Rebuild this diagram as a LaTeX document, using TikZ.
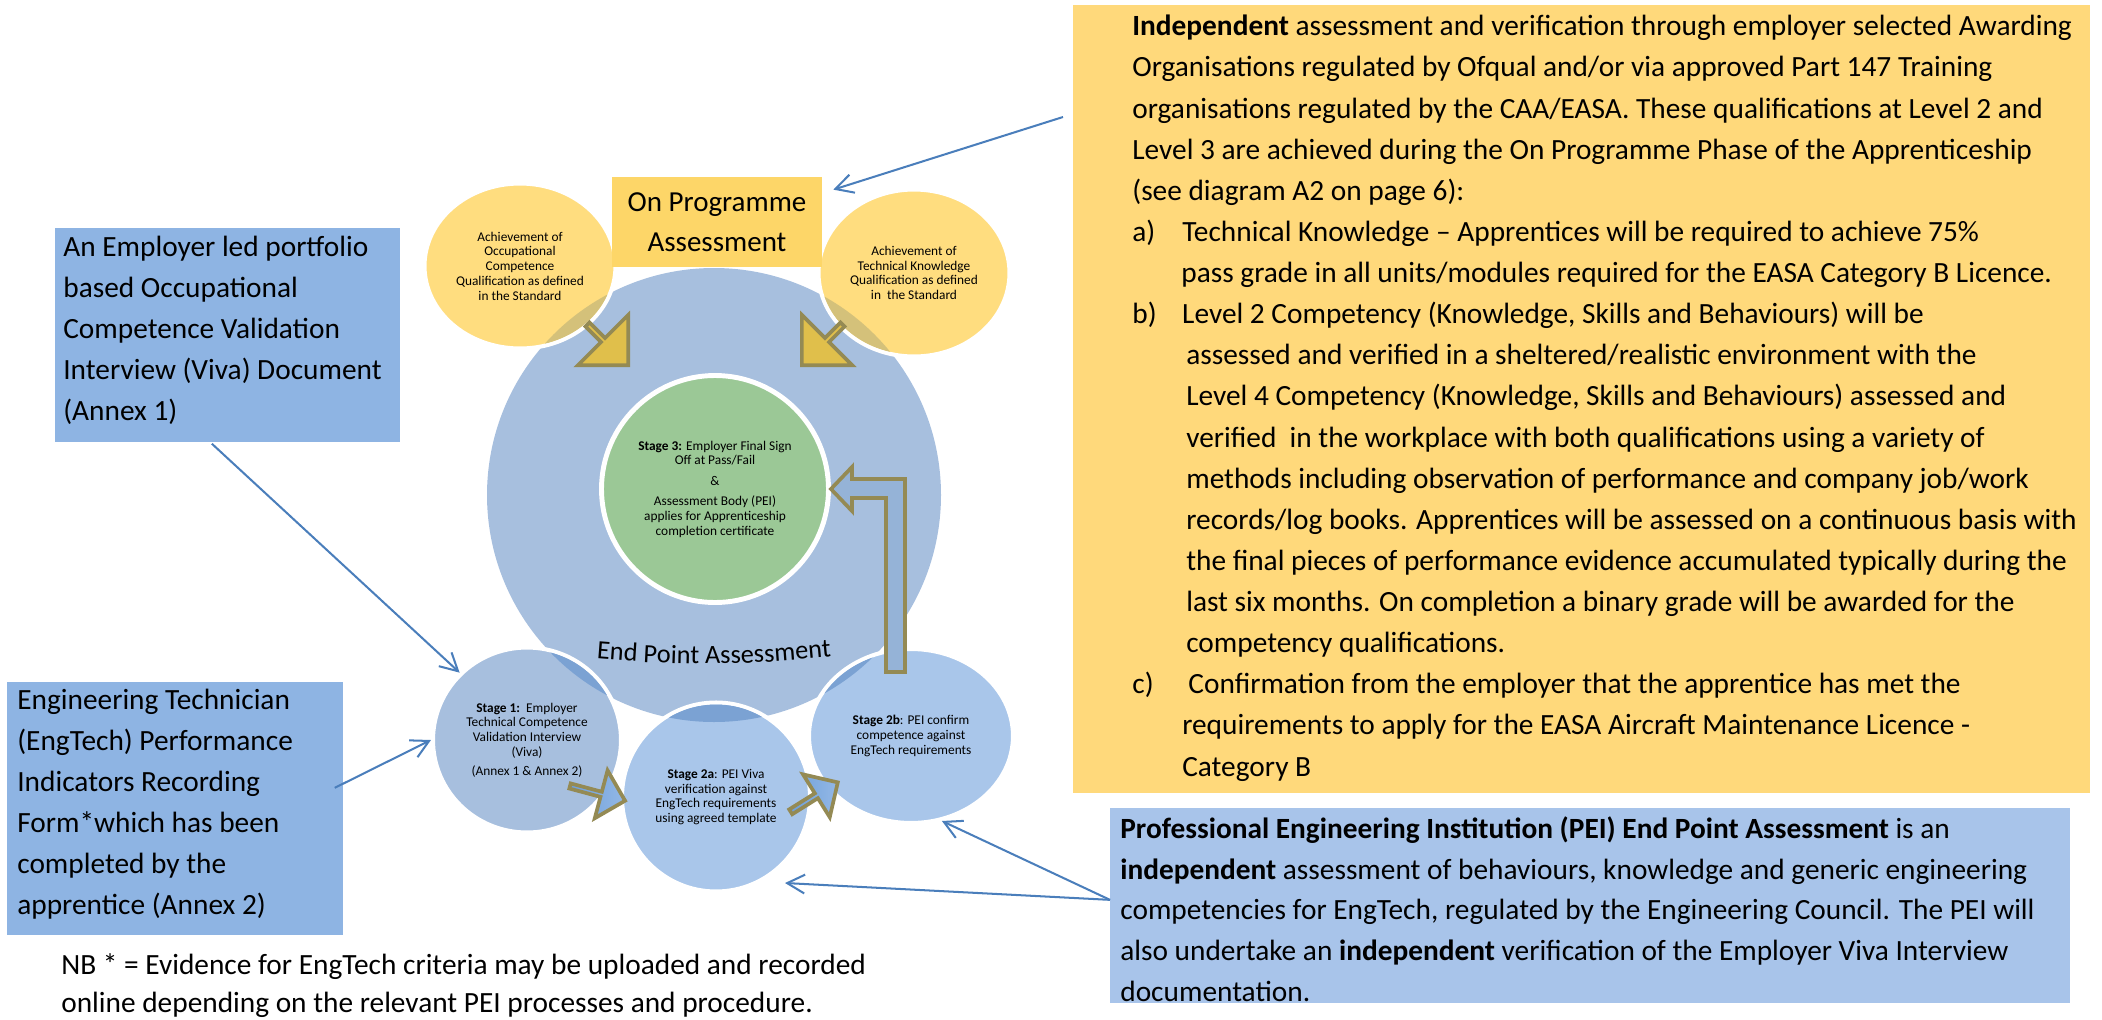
\documentclass[tikz,border=0pt]{standalone}
\usepackage{fontspec}
\setmainfont{Carlito}
\usepackage{xcolor}
\usetikzlibrary{arrows.meta, positioning, shapes.geometric, shapes.arrows, calc, decorations.text}

\definecolor{epablue}{HTML}{A7BFDE}
\definecolor{stageblue}{HTML}{A9C6EA}
\definecolor{lensblue}{HTML}{7BA2D3}
\definecolor{passgreen}{HTML}{9BC896}
\definecolor{circyellow}{HTML}{FFDD7F}
\definecolor{panelyellow}{HTML}{FFD97B}
\definecolor{opyellow}{HTML}{FDD668}
\definecolor{lenskhaki}{HTML}{D4C17A}
\definecolor{goldfill}{HTML}{E0BF4B}
\definecolor{arrowolive}{HTML}{948A54}
\definecolor{arrowblue}{HTML}{6E9FDA}
\definecolor{arrowlight}{HTML}{93B8E6}
\definecolor{bentblue}{HTML}{95B3D7}
\definecolor{boxblue}{HTML}{8EB4E3}
\definecolor{peiblue}{HTML}{A8C4EA}
\definecolor{linkblue}{HTML}{4A7EBB}

\newcommand{\bodyfont}{\fontsize{16.7}{23.4}\selectfont}
\newcommand{\opfont}{\fontsize{16.5}{22.8}\selectfont}
\newcommand{\circfont}{\fontsize{7.6}{8.4}\selectfont}
\newcommand{\eptfont}{\fontsize{15}{18}\selectfont}
\newcommand{\lbl}[2][28.4pt]{\makebox[#1][l]{#2}}

\begin{document}
\begin{tikzpicture}[x=0.2mm, y=-0.2mm,
    every node/.style={inner sep=0pt},
    bubble/.style={ellipse, draw=white, line width=2.3pt, align=center, font=\circfont},
    panel/.style={rectangle, anchor=north west},
    body/.style={anchor=base west, align=left, font=\bodyfont},
    gold/.style={
        single arrow, draw=arrowolive, fill=goldfill, line width=2.1pt,
        single arrow tip angle=90, minimum height=11.5mm, minimum width=14.2mm,
        single arrow head extend=4.15mm, anchor=tip
    },
    flow/.style={
        single arrow, draw=arrowolive, line width=2.1pt,
        left color=arrowblue, right color=arrowlight,
        single arrow tip angle=90, anchor=tip
    },
    link/.style={-{Straight Barb[length=10pt, width=10.7pt]}, line width=1.15pt, linkblue}
]
\useasboundingbox (0,0) rectangle (2102,1020);

% assessment circles
\node[bubble, fill=epablue, draw=none, minimum width=90.8mm, minimum height=90.8mm] (epa) at (714,495) {};

\node[bubble, fill=circyellow, minimum width=38.2mm, minimum height=33mm] (occq) at (520,266)
    {Achievement of\\Occupational\\Competence\\Qualification as defined\\in the Standard};
\node[bubble, fill=circyellow, minimum width=38.2mm, minimum height=33.4mm] (techq) at (914,273)
    {Achievement of\\Technical Knowledge\\Qualification as defined\\in\ \ the Standard};

\begin{scope}
    \clip (epa.center) circle[radius=227];
    \fill[lenskhaki] (occq.center) ellipse[x radius=93.5, y radius=80.5];
    \fill[lenskhaki] (techq.center) ellipse[x radius=93.5, y radius=81.5];
\end{scope}

\node[fill=opyellow, minimum width=42mm, minimum height=18mm, align=center, font=\opfont] (opa) at (717,222)
    {On Programme\\Assessment};

\node[bubble, fill=passgreen, line width=2.8pt, minimum width=45.4mm, minimum height=45.4mm] (st3) at (715,489)
    {\textbf{Stage 3:} Employer Final Sign\\Off at Pass/Fail\\[3.4pt]\&\\[3pt]Assessment Body (PEI)\\applies for Apprenticeship\\completion certificate};

\node[bubble, fill=epablue, minimum width=37.6mm, minimum height=37mm] (st1) at (527,740)
    {\textbf{Stage 1:}\ \ Employer\\Technical Competence\\Validation Interview\\(Viva)\\[2.5pt](Annex 1 \& Annex 2)};
\node[bubble, fill=stageblue, minimum width=40.8mm, minimum height=34.8mm] (st2b) at (911,736)
    {\textbf{Stage 2b}: PEI confirm\\competence against\\EngTech requirements};
\node[bubble, fill=stageblue, minimum width=37.6mm, minimum height=37.8mm] (st2a) at (716,797)
    {\textbf{Stage 2a}: PEI Viva\\verification against\\EngTech requirements\\using agreed template};

\begin{scope}
    \clip (epa.center) circle[radius=227];
    \fill[lensblue] (st1.center) ellipse[x radius=92, y radius=90.5];
    \fill[lensblue] (st2b.center) ellipse[x radius=100, y radius=85];
    \fill[lensblue] (st2a.center) ellipse[x radius=92, y radius=92.5];
\end{scope}

\path[decorate, decoration={text along path, text align=center, text={|\eptfont|End Point Assessment}}]
    (599,659) to[bend right=5] (829,657);

% block arrows
\node[gold, rotate=-45] (occin) at (630,367) {};
\node[gold, rotate=-135] (techin) at (800,367) {};
\node[flow, rotate=-15, minimum height=11.4mm, minimum width=9.9mm, single arrow head extend=3.1mm] (to2a) at (627.6,801.4) {};
\node[flow, rotate=32, minimum height=11.1mm, minimum width=10.1mm, single arrow head extend=2.9mm] (to2b) at (840,781) {};
\draw[arrowolive, fill=bentblue, line width=2.1pt, line join=miter]
    (st3.east) -- ++(21,-22) -- ++(0,12) -- ++(53,0) -- ++(0,193) -- ++(-19,0)
    -- ++(0,-174) -- ++(-34,0) -- ++(0,13) -- cycle;

% description panels (text nodes sit on the baseline of their last line)
\node[panel, fill=panelyellow, minimum width=203.4mm, minimum height=157.6mm] (otj) at (1073,5) {};
\node[body] (otjtext) at (1132,776) {%
    \textbf{Independent} assessment and verification through employer selected Awarding\\
    Organisations regulated by Ofqual and/or via approved Part 147 Training\\
    organisations regulated by the CAA/EASA. These qualifications at Level 2 and\\
    Level 3 are achieved during the On Programme Phase of the Apprenticeship\\
    (see diagram A2 on page 6):\\
    \lbl{a)}Technical Knowledge – Apprentices will be required to achieve 75\%\\
    \hspace*{27.9pt}pass grade in all units/modules required for the EASA Category B Licence.\\
    \lbl{b)}Level 2 Competency (Knowledge, Skills and Behaviours) will be\\
    \hspace*{30.7pt}assessed and verified in a sheltered/realistic environment with the\\
    \hspace*{30.7pt}Level 4 Competency (Knowledge, Skills and Behaviours) assessed and\\
    \hspace*{30.7pt}verified\ \ in the workplace with both qualifications using a variety of\\
    \hspace*{30.7pt}methods including observation of performance and company job/work\\
    \hspace*{30.7pt}records/log books. Apprentices will be assessed on a continuous basis with\\
    \hspace*{30.7pt}the final pieces of performance evidence accumulated typically during the\\
    \hspace*{30.7pt}last six months. On completion a binary grade will be awarded for the\\
    \hspace*{30.7pt}competency qualifications.\\
    \lbl[31.9pt]{c)}Confirmation from the employer that the apprentice has met the\\
    \hspace*{28.4pt}requirements to apply for the EASA Aircraft Maintenance Licence -\\
    \hspace*{28.4pt}Category B};

\node[panel, fill=boxblue, minimum width=69mm, minimum height=42.8mm] (vivadoc) at (55,228) {};
\node[body] (vivatext) at (63,420.5) {An Employer led portfolio\\based Occupational\\Competence Validation\\Interview (Viva) Document\\(Annex 1)};

\node[panel, fill=boxblue, minimum width=67.2mm, minimum height=50.6mm] (perfform) at (7,682) {};
\node[body] (perftext) at (17,914.6) {Engineering Technician\\(EngTech) Performance\\Indicators Recording\\Form*which has been\\completed by the\\apprentice (Annex 2)};

\node[panel, fill=peiblue, minimum width=192mm, minimum height=39mm] (peiepa) at (1110,808) {};
\node[body, font=\fontsize{16.7}{23.1}\selectfont] (peitext) at (1120,1001) {%
    \textbf{Professional Engineering Institution (PEI) End Point Assessment} is an\\
    \textbf{independent} assessment of behaviours, knowledge and generic engineering\\
    competencies for EngTech, regulated by the Engineering Council. The PEI will\\
    also undertake an \textbf{independent} verification of the Employer Viva Interview\\
    documentation.};

\node[body, font=\fontsize{16.7}{21.3}\selectfont] (nbnote) at (61,1012)
    {NB * = Evidence for EngTech criteria may be uploaded and recorded\\online depending on the relevant PEI processes and procedure.};

% pointers
\draw[link] ($(otj.north west)+(-10,112)$) -- ($(opa.north east)+(11,13)$);
\draw[link] ($(vivadoc.south)+(-16,1)$) -- (st1.135);
\draw[link] ($(perfform.east)+(-9,-21)$) -- (st1.west);
\draw[link] ($(peiepa.west)+(0,-6)$) -- (st2b.-70);
\draw[link] ($(peiepa.west)+(0,-6)$) -- ($(st2a.center)+(69,86)$);

\end{tikzpicture}
\end{document}
